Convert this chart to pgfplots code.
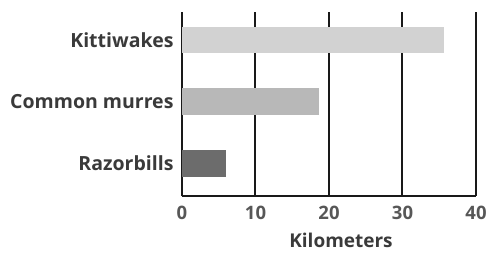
\documentclass[border=0pt]{standalone}
\usepackage{fontspec}
\setmainfont{Open Sans}
\usepackage{pgfplots}
\pgfplotsset{compat=1.18}
\definecolor{txt}{HTML}{3A3A3A}
\definecolor{kit}{HTML}{D2D2D2}
\definecolor{mur}{HTML}{B8B8B8}
\definecolor{raz}{HTML}{6C6C6C}
\begin{document}
\begin{tikzpicture}
\useasboundingbox (-182bp,-58bp) rectangle (306bp,196bp);
\begin{axis}[
  at={(0,0)}, anchor=south west,
  scale only axis, width=294bp, height=184bp,
  xmin=0, xmax=40, ymin=-0.53, ymax=2.45,
  xtick={0,10,20,30,40},
  ytick={0,1,2},
  yticklabels={Razorbills,Common murres,Kittiwakes},
  xmajorgrids, grid style={black!90, line width=2bp},
  axis x line*=bottom, axis y line*=left,
  x axis line style={-, black!90, line width=2bp},
  y axis line style={-, black!90, line width=2bp},
  major tick length=0pt,
  xbar, bar width=0.43,
  yticklabel style={font=\fontsize{19.5bp}{22bp}\selectfont\bfseries, text=txt, xshift=-5bp},
  xticklabel style={font=\fontsize{18.5bp}{22bp}\selectfont\bfseries, text=txt!85, yshift=-7bp},
  xlabel={Kilometers},
  xlabel style={font=\fontsize{19bp}{22bp}\selectfont\bfseries, text=txt, xshift=12bp, yshift=-6bp},
  /pgf/number format/assume math mode=true,
]
\addplot[draw=none, fill=raz, bar shift=0pt] coordinates {(6,0)};
\addplot[draw=none, fill=mur, bar shift=0pt] coordinates {(18.6,1)};
\addplot[draw=none, fill=kit, bar shift=0pt] coordinates {(35.6,2)};
\end{axis}
\end{tikzpicture}
\end{document}
